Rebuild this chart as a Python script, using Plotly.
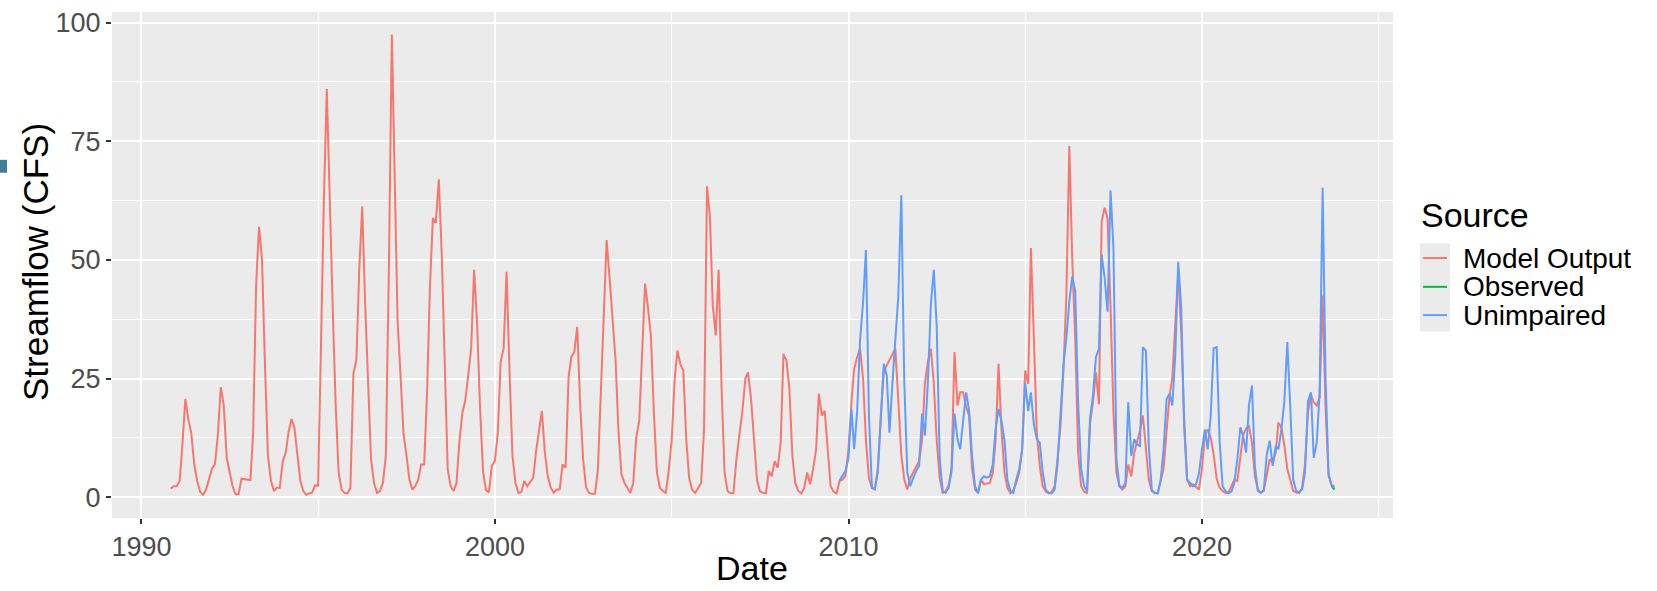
import plotly.graph_objects as go
import pandas as pd

# ---------------- data (monthly, month-end dates) ----------------
model_start = "1990-10-31"
model_output = [
    # WY1991
    1.8, 2.3, 2.3, 3.4, 11, 20.7, 16.5, 13.5, 7, 3.4, 1.1, 0.5,
    # WY1992
    1.6, 3.7, 6, 7, 13, 23.2, 19.5, 8.3, 5.5, 2.3, 0.6, 0.6,
    # WY1993
    3.9, 3.8, 3.7, 3.6, 13.6, 44.7, 57, 50, 28, 8.7, 3.5, 1.3,
    # WY1994
    2, 2, 7.6, 9.4, 13.6, 16.5, 14.7, 9, 3.5, 1.3, 0.5, 0.8,
    # WY1995
    1.0, 2.5, 2.4, 33, 62, 86, 60.4, 40, 19.8, 5.2, 1.6, 0.9,
    # WY1996
    0.8, 2, 26, 29, 47.8, 61.3, 40.9, 24.4, 8, 3, 0.9, 1.3,
    # WY1997
    3, 8.7, 47.5, 97.5, 69, 37.4, 26, 13.6, 9, 3.7, 1.6, 2.3,
    # WY1998
    3.7, 6.9, 6.9, 22.8, 44, 58.8, 57.8, 67, 51.5, 27.6, 5.9, 2.3,
    # WY1999
    1.3, 3, 12, 17.9, 20.3, 25.6, 31.3, 47.9, 37, 19, 5.5, 1.5,
    # WY2000
    1.0, 6.6, 7.6, 13.6, 28.5, 31.4, 47.5, 26.3, 8.7, 3, 0.9, 1.1,
    # WY2001
    3.4, 2.3, 3.2, 4.1, 9.5, 14.5, 18.2, 9.4, 4.4, 2, 0.9, 1.6,
    # WY2002
    1.6, 6.9, 6.2, 25.3, 29.5, 30.6, 35.9, 19.3, 8, 2, 0.9, 0.7,
    # WY2003
    0.7, 5.9, 23, 43, 54.2, 46, 38, 29, 14, 4.8, 3, 2,
    # WY2004
    0.9, 3, 12.6, 16.1, 30, 45, 40, 33.8, 17.9, 5.3, 2, 1.3,
    # WY2005
    0.9, 5.5, 12, 25, 30.9, 28, 26.7, 12, 4, 1.5, 0.9, 1.8,
    # WY2006
    3, 14, 65.5, 58.8, 40.5, 34.1, 47.9, 22.8, 5.2, 1.3, 0.8, 0.8,
    # WY2007
    8, 13, 18, 25, 26.3, 20.7, 11.5, 3.7, 1.3, 0.9, 0.8, 5.5,
    # WY2008
    4.4, 7.6, 6.2, 11.5, 30.2, 28.8, 22.8, 8.7, 3, 1.3, 0.8, 2,
    # WY2009
    5.2, 2.7, 5.9, 10, 21.8, 17.2, 18.2, 9, 2.3, 1.2, 0.8, 3.4,
    # WY2010
    3.7, 4.5, 10, 20, 27, 29.5, 31.3, 25, 12, 4, 1.9, 1.6,
    # WY2011
    6.2, 16.8, 26.4, 27.8, 29, 30.2, 31.3, 20, 9, 3.7, 1.6, 4,
    # WY2012
    5.2, 6.2, 7.6, 12, 24, 28.5, 31.3, 24, 12, 4, 0.9, 1.2,
    # WY2013
    2.5, 5.9, 30.6, 19.3, 22.1, 22.1, 19, 17.2, 6, 1.6, 0.9, 3.7,
    # WY2014
    2.7, 2.9, 3, 5.2, 12, 28.1, 14.3, 5.2, 2, 0.8, 1.5, 3,
    # WY2015
    5.2, 10.1, 26.7, 23.9, 52.5, 33.4, 13.6, 6.5, 2.3, 1.2, 0.8, 1.1,
    # WY2016
    2.3, 8, 15, 27, 42, 74, 50.3, 33.4, 9.4, 2.3, 1.2, 0.8,
    # WY2017
    15.5, 20, 26.3, 19.6, 58.1, 61, 58.8, 40, 18, 5, 2.3, 1.6,
    # WY2018
    2.3, 6.9, 4.4, 9.4, 11.5, 14, 17.2, 10.1, 3.7, 1.3, 0.9, 0.8,
    # WY2019
    3.7, 6, 14, 21.5, 25, 38, 47.5, 34.8, 17, 3.7, 2.3, 2.7,
    # WY2020
    2.2, 1.6, 5.9, 13, 14.3, 12.5, 9, 4, 2, 1.3, 0.9, 1,
    # WY2021
    2.3, 3.7, 3.4, 8.7, 13, 14.5, 15, 11.5, 4.4, 1.6, 1.0, 1.3,
    # WY2022
    5.2, 8, 7.3, 9.4, 15.7, 14.7, 11, 6, 3.7, 1.3, 1.0, 0.8,
    # WY2023
    2, 7, 18, 21.5, 20, 19.3, 21, 42.5, 19, 4.5, 2.5, 2.3,
]

unimpaired_start = "2009-09-30"
unimpaired = [
    3.5,
    # WY2010
    4.5, 5.5, 8, 18.6, 10.1, 18, 33, 41, 52.1, 17, 2, 1.8,
    # WY2011
    5.2, 15.8, 28.1, 25.6, 13.6, 24.2, 33.4, 42.6, 63.6, 24.2, 5.2, 2.3,
    # WY2012
    4, 5.5, 6.6, 17.6, 13, 24.2, 40.5, 47.9, 36, 8, 1.3, 0.9,
    # WY2013
    2, 5.4, 17.6, 12.2, 10.1, 16.5, 22.1, 18.2, 8.7, 2.3, 0.8, 3.7,
    # WY2014
    4.4, 4.1, 4.4, 7, 14.3, 18.6, 16.1, 12, 3.7, 1.3, 0.9, 3.7,
    # WY2015
    6, 10.1, 24.2, 18.2, 22.1, 15.3, 12.2, 11.5, 5.2, 1.6, 0.9, 0.8,
    # WY2016
    1.6, 7, 17, 28, 33.4, 41.2, 46.5, 43.4, 20, 6, 2.3, 1.3,
    # WY2017
    16.5, 21.4, 29.5, 31.3, 51.1, 46.2, 39.1, 64.6, 52.5, 8, 2.3, 2,
    # WY2018
    3, 20, 8.7, 12.2, 11.1, 10.8, 31.6, 30.9, 10.8, 1.6, 0.8, 0.8,
    # WY2019
    3.7, 10.1, 20.7, 21.8, 19.3, 30, 49.6, 40, 15, 3.7, 3, 2.3,
    # WY2020
    2.7, 5, 10, 14.3, 10.1, 17.2, 31.4, 31.6, 12.2, 2.3, 1.3, 0.8,
    # WY2021
    1.2, 3, 8, 14.7, 13, 9.4, 19.3, 23.5, 6.6, 1.3, 0.9, 1.5,
    # WY2022
    9, 11.9, 6.6, 10.8, 10.1, 14.3, 20, 32.7, 19.3, 3.7, 1.3, 1.0,
    # WY2023
    1.6, 5.2, 20.3, 22.1, 8.3, 11.5, 22, 65.2, 25, 5, 2.5, 2.0,
]

observed_start = "2023-08-31"
observed = [2.4, 1.6]

series_names = ["Model Output", "Observed", "Unimpaired"]
series_colors = ["#F8766D", "#00BA38", "#619CFF"]

y_ticks = [0, 25, 50, 75, 100]
x_tick_labels = ["1990", "2000", "2010", "2020"]


def month_ends(start, n):
    try:
        return pd.date_range(start=start, periods=n, freq="ME")
    except ValueError:
        return pd.date_range(start=start, periods=n, freq="M")


# ---------------- figure ----------------
W, H = 1657, 591
L, R, T, B = 112, 1393, 8, 518   # plot panel in pixels
PW, PH = R - L, B - T


def px(x):
    return (x - L) / PW


def py(y):
    return (B - y) / PH


FONT = "Liberation Sans, Arial, Helvetica, sans-serif"

fig = go.Figure()
data = [
    (model_start, model_output),
    (observed_start, observed),
    (unimpaired_start, unimpaired),
]
for (start, vals), name, col in zip(data, series_names, series_colors):
    fig.add_trace(go.Scatter(
        x=month_ends(start, len(vals)), y=vals, mode="lines", name=name,
        line=dict(color=col, width=2), showlegend=False,
    ))

fig.update_layout(
    width=W, height=H,
    margin=dict(l=L, r=W - R, t=T, b=H - B, pad=0),
    paper_bgcolor="white", plot_bgcolor="#EBEBEB",
    font=dict(family=FONT, color="#4D4D4D"),
    xaxis=dict(
        type="date", range=["1989-03-03", "2025-05-27"],
        tickmode="array",
        tickvals=[f"{v}-01-01" for v in x_tick_labels],
        ticktext=x_tick_labels,
        ticks="outside", ticklen=5, tickwidth=1.5, tickcolor="#333333",
        tickfont=dict(size=27, color="#4D4D4D", family=FONT),
        showgrid=True, gridcolor="white", gridwidth=2,
        minor=dict(tickmode="array",
                   tickvals=["1995-01-01", "2005-01-01", "2015-01-01", "2025-01-01"],
                   showgrid=True, gridcolor="white", gridwidth=1, ticks=""),
        zeroline=False, showline=False,
    ),
    yaxis=dict(
        range=[-4.39, 102.24],
        tickmode="array", tickvals=y_ticks, ticktext=[str(v) for v in y_ticks],
        ticks="outside", ticklen=5, tickwidth=1.5, tickcolor="#333333",
        tickfont=dict(size=27, color="#4D4D4D", family=FONT),
        showgrid=True, gridcolor="white", gridwidth=2,
        minor=dict(tickmode="array", tickvals=[12.5, 37.5, 62.5, 87.5],
                   showgrid=True, gridcolor="white", gridwidth=1, ticks=""),
        zeroline=False, showline=False,
    ),
)

annotations = [
    dict(text="Streamflow (CFS)", x=px(35), y=py(260), xref="paper", yref="paper",
         showarrow=False, textangle=-90, xanchor="center", yanchor="middle",
         font=dict(size=35, color="black", family=FONT)),
    dict(text="Date", x=px(752), y=py(590), xref="paper", yref="paper",
         showarrow=False, xanchor="center", yanchor="bottom",
         font=dict(size=34, color="black", family=FONT)),
    dict(text="Source", x=px(1419), y=py(213), xref="paper", yref="paper",
         showarrow=False, xanchor="left", yanchor="middle",
         font=dict(size=34, color="black", family=FONT)),
]
shapes = [
    dict(type="rect", xref="paper", yref="paper", x0=px(0), x1=px(7),
         y0=py(157), y1=py(170), fillcolor="#3F7F9B", line=dict(width=0)),
    dict(type="rect", xref="paper", yref="paper", x0=px(1420), x1=px(1450),
         y0=py(241), y1=py(330), fillcolor="#EBEBEB", line=dict(width=0)),
]
legend_y = [256, 285, 313.5]
for name, col, ly in zip(series_names, series_colors, legend_y):
    shapes.append(dict(type="line", xref="paper", yref="paper",
                       x0=px(1423), x1=px(1447), y0=py(ly), y1=py(ly),
                       line=dict(color=col, width=2)))
    annotations.append(dict(text=name, x=px(1461), y=py(ly), xref="paper", yref="paper",
                            showarrow=False, xanchor="left", yanchor="middle",
                            font=dict(size=28, color="black", family=FONT)))

fig.update_layout(annotations=annotations, shapes=shapes)
fig.write_html("out.html")
